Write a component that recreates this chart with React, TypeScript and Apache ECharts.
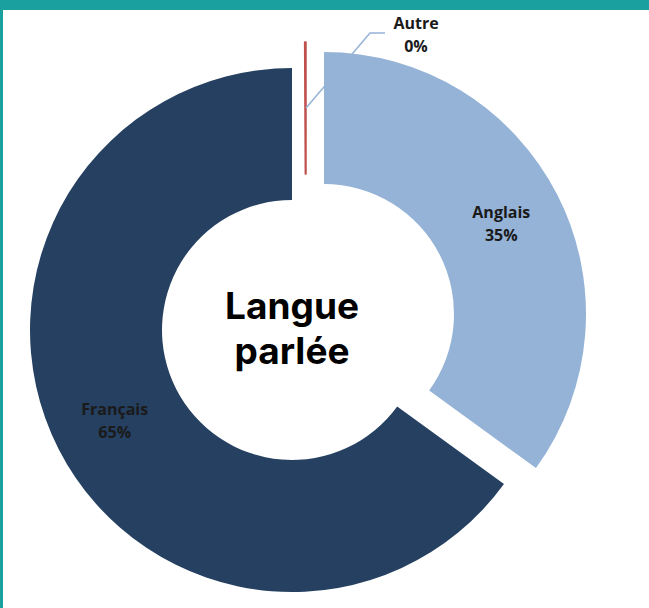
import React, { useEffect, useRef } from "react";
import * as echarts from "echarts";

const categories = ["Anglais", "Français", "Autre"];
const values = [35, 65, 0];
const colors = ["#95B3D7", "#254061", "#C0504D"];
const centerTitle = "Langue\nparlée";

const INNER = 130;
const OUTER = 262;
// each slice is exploded from the pie's centre by its own offset, as in the reference
const centers: [number, number][] = [
  [324, 314],
  [292, 330],
  [306, 304],
];

export default function App() {
  const ref = useRef<HTMLDivElement>(null);

  useEffect(() => {
    if (!ref.current) return;
    const chart = echarts.init(ref.current, null, { renderer: "svg" });

    const labelBase = {
      formatter: "{b}\n{d}%",
      fontFamily: "Open Sans",
      fontWeight: "bold" as const,
      fontSize: 16,
      lineHeight: 23,
      color: "#1a1a1a",
    };

    const series = categories.map((_, i) => ({
      type: "pie" as const,
      center: centers[i],
      radius: [INNER, OUTER],
      startAngle: 90,
      clockwise: true,
      silent: true,
      minAngle: i === 2 ? 0.3 : 0,
      avoidLabelOverlap: false,
      z: i === 2 ? 3 : 2,
      label: { ...labelBase, position: "inside" as const },
      labelLine: { show: false },
      labelLayout:
        i === 2
          ? { x: 416, y: 34, align: "center", verticalAlign: "middle" }
          : undefined,
      data: categories.map((name, j) => ({
        name,
        value: values[j],
        itemStyle:
          j === i
            ? {
                color: colors[j],
                borderColor: colors[j],
                borderWidth: j === 2 ? 1.5 : 0,
              }
            : { color: "rgba(0,0,0,0)", borderWidth: 0 },
        label: { show: j === i },
      })),
    }));

    // leader line for the "Autre" label, starting mid-ring on that slice
    const autreC = centers[2];
    const midR = (INNER + OUTER) / 2;
    const start = [autreC[0], autreC[1] - midR];

    chart.setOption({
      animation: false,
      backgroundColor: "#ffffff",
      series,
      graphic: [
        {
          type: "rect",
          shape: { x: 0, y: 0, width: 649, height: 10 },
          style: { fill: "#19A09F" },
          silent: true,
        },
        {
          type: "rect",
          shape: { x: 0, y: 0, width: 3, height: 608 },
          style: { fill: "#19A09F" },
          silent: true,
        },
        {
          type: "polyline",
          shape: {
            points: [
              start,
              [start[0] + 64, 33],
              [start[0] + 79, 33],
            ],
          },
          style: { stroke: "#95B3D7", lineWidth: 1.5, fill: "none" },
          z: 10,
          silent: true,
        },
        {
          type: "text",
          x: 292,
          y: 328,
          z: 10,
          style: {
            text: centerTitle,
            fontFamily: "Inter",
            fontWeight: 700,
            fontSize: 37,
            lineHeight: 45,
            align: "center",
            verticalAlign: "middle",
            fill: "#000000",
          },
        },
      ],
    });

    return () => chart.dispose();
  }, []);

  return (
    <div
      ref={ref}
      style={{
        position: "absolute",
        left: 0,
        top: 0,
        width: 649,
        height: 608,
        background: "#ffffff",
      }}
    />
  );
}
